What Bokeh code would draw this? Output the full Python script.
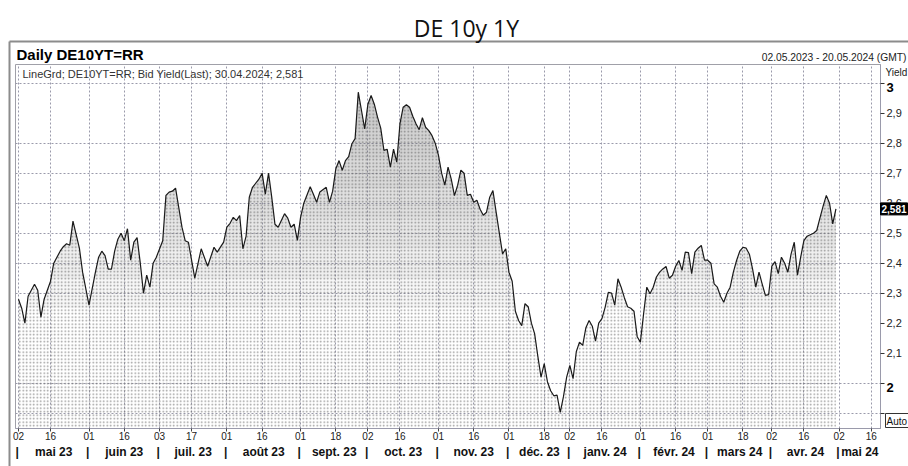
import numpy as np
import pandas as pd
from bokeh.plotting import figure
from bokeh.models import Range1d, LinearAxis, FixedTicker, Grid, ColumnDataSource
from bokeh.core.properties import value
from bokeh.embed import file_html
from bokeh.resources import INLINE

# ---------------- data ----------------
dates = [
    "2023-05-02", "2023-05-03", "2023-05-04", "2023-05-05", "2023-05-09", "2023-05-10", "2023-05-11",
    "2023-05-12", "2023-05-16", "2023-05-17", "2023-05-19", "2023-05-22", "2023-05-23", "2023-05-24",
    "2023-05-25", "2023-05-29", "2023-05-30", "2023-06-01", "2023-06-05", "2023-06-06", "2023-06-07",
    "2023-06-08", "2023-06-09", "2023-06-12", "2023-06-13", "2023-06-14", "2023-06-15", "2023-06-16",
    "2023-06-19", "2023-06-20", "2023-06-21", "2023-06-22", "2023-06-23", "2023-06-26", "2023-06-27",
    "2023-06-28", "2023-06-29", "2023-06-30", "2023-07-04", "2023-07-05", "2023-07-06", "2023-07-07",
    "2023-07-10", "2023-07-12", "2023-07-13", "2023-07-14", "2023-07-18", "2023-07-20", "2023-07-24",
    "2023-07-26", "2023-07-27", "2023-07-31", "2023-08-01", "2023-08-02", "2023-08-03", "2023-08-04",
    "2023-08-07", "2023-08-08", "2023-08-09", "2023-08-10", "2023-08-11", "2023-08-15", "2023-08-16",
    "2023-08-17", "2023-08-18", "2023-08-21", "2023-08-22", "2023-08-23", "2023-08-25", "2023-08-28",
    "2023-08-29", "2023-08-30", "2023-08-31", "2023-09-01", "2023-09-04", "2023-09-06", "2023-09-07",
    "2023-09-08", "2023-09-11", "2023-09-13", "2023-09-14", "2023-09-15", "2023-09-18", "2023-09-19",
    "2023-09-20", "2023-09-21", "2023-09-22", "2023-09-25", "2023-09-26", "2023-09-27", "2023-09-28",
    "2023-09-29", "2023-10-02", "2023-10-03", "2023-10-04", "2023-10-05", "2023-10-06", "2023-10-09",
    "2023-10-10", "2023-10-11", "2023-10-12", "2023-10-13", "2023-10-16", "2023-10-17", "2023-10-18",
    "2023-10-19", "2023-10-20", "2023-10-23", "2023-10-24", "2023-10-25", "2023-10-26", "2023-10-27",
    "2023-10-30", "2023-10-31", "2023-11-01", "2023-11-02", "2023-11-03", "2023-11-06", "2023-11-07",
    "2023-11-08", "2023-11-09", "2023-11-10", "2023-11-13", "2023-11-14", "2023-11-15", "2023-11-16",
    "2023-11-17", "2023-11-20", "2023-11-21", "2023-11-22", "2023-11-23", "2023-11-24", "2023-11-27",
    "2023-11-28", "2023-11-29", "2023-11-30", "2023-12-01", "2023-12-04", "2023-12-05", "2023-12-06",
    "2023-12-07", "2023-12-08", "2023-12-11", "2023-12-12", "2023-12-13", "2023-12-14", "2023-12-15",
    "2023-12-18", "2023-12-19", "2023-12-20", "2023-12-21", "2023-12-22", "2023-12-27", "2023-12-28",
    "2023-12-29", "2024-01-02", "2024-01-03", "2024-01-04", "2024-01-05", "2024-01-08", "2024-01-09",
    "2024-01-10", "2024-01-11", "2024-01-12", "2024-01-15", "2024-01-16", "2024-01-17", "2024-01-18",
    "2024-01-19", "2024-01-22", "2024-01-23", "2024-01-24", "2024-01-25", "2024-01-26", "2024-01-29",
    "2024-01-30", "2024-01-31", "2024-02-01", "2024-02-02", "2024-02-05", "2024-02-06", "2024-02-07",
    "2024-02-08", "2024-02-09", "2024-02-12", "2024-02-13", "2024-02-14", "2024-02-15", "2024-02-16",
    "2024-02-19", "2024-02-20", "2024-02-21", "2024-02-22", "2024-02-23", "2024-02-26", "2024-02-27",
    "2024-02-28", "2024-02-29", "2024-03-01", "2024-03-04", "2024-03-05", "2024-03-06", "2024-03-07",
    "2024-03-08", "2024-03-11", "2024-03-12", "2024-03-13", "2024-03-14", "2024-03-15", "2024-03-18",
    "2024-03-19", "2024-03-20", "2024-03-21", "2024-03-22", "2024-03-25", "2024-03-26", "2024-03-27",
    "2024-03-28", "2024-04-02", "2024-04-03", "2024-04-04", "2024-04-05", "2024-04-08", "2024-04-09",
    "2024-04-10", "2024-04-11", "2024-04-12", "2024-04-15", "2024-04-16", "2024-04-17", "2024-04-18",
    "2024-04-19", "2024-04-22", "2024-04-23", "2024-04-24", "2024-04-25", "2024-04-26", "2024-04-29",
    "2024-04-30",
]
yields = [
    2.28, 2.25, 2.20, 2.29, 2.33, 2.31, 2.22,
    2.28, 2.34, 2.40, 2.44, 2.455, 2.465, 2.46,
    2.54, 2.45, 2.37, 2.26, 2.37, 2.42, 2.44,
    2.425, 2.38, 2.38, 2.44, 2.48, 2.50, 2.475,
    2.515, 2.41, 2.47, 2.485, 2.40, 2.30, 2.36,
    2.32, 2.40, 2.42, 2.475, 2.626, 2.637, 2.64,
    2.65, 2.52, 2.475, 2.47, 2.35, 2.448, 2.39,
    2.453, 2.437, 2.47, 2.52, 2.533, 2.553, 2.542,
    2.559, 2.448, 2.49, 2.62, 2.653, 2.68, 2.70,
    2.63, 2.70, 2.62, 2.53, 2.52, 2.565, 2.55,
    2.52, 2.53, 2.476, 2.553, 2.60, 2.655, 2.63,
    2.603, 2.637, 2.653, 2.603, 2.64, 2.715, 2.742,
    2.71, 2.742, 2.755, 2.798, 2.815, 2.97, 2.909,
    2.848, 2.93, 2.959, 2.93, 2.887, 2.85, 2.776,
    2.78, 2.72, 2.78, 2.737, 2.865, 2.92, 2.928,
    2.92, 2.89, 2.865, 2.845, 2.885, 2.853, 2.842,
    2.825, 2.80, 2.76, 2.70, 2.66, 2.72, 2.68,
    2.625, 2.66, 2.71, 2.70, 2.626, 2.63, 2.603,
    2.61, 2.58, 2.56, 2.57, 2.62, 2.642, 2.57,
    2.50, 2.431, 2.448, 2.37, 2.34, 2.24, 2.209,
    2.192, 2.265, 2.255, 2.20, 2.165, 2.09, 2.02,
    2.065, 2.005, 1.975, 1.958, 1.96, 1.903, 1.955,
    2.02, 2.059, 2.015, 2.105, 2.137, 2.126, 2.185,
    2.209, 2.19, 2.14, 2.20, 2.215, 2.253, 2.303,
    2.30, 2.26, 2.348, 2.32, 2.285, 2.255, 2.25,
    2.24, 2.155, 2.137, 2.231, 2.32, 2.298, 2.32,
    2.354, 2.37, 2.381, 2.389, 2.35, 2.36, 2.39,
    2.409, 2.376, 2.437, 2.435, 2.365, 2.437, 2.45,
    2.459, 2.41, 2.41, 2.40, 2.331, 2.32, 2.29,
    2.27, 2.30, 2.32, 2.37, 2.409, 2.44, 2.453,
    2.45, 2.43, 2.38, 2.32, 2.37, 2.33, 2.293,
    2.295, 2.39, 2.405, 2.365, 2.42, 2.40, 2.37,
    2.43, 2.47, 2.36, 2.42, 2.475, 2.49, 2.495,
    2.50, 2.509, 2.55, 2.59, 2.626, 2.60, 2.531,
    2.581,
]

first_day = "2023-05-02"
last_day = "2024-05-20"
holidays = ["2023-12-25", "2023-12-26", "2024-01-01", "2024-03-29", "2024-04-01", "2024-05-01"]

day_tick_dates = [
    "2023-05-02", "2023-05-16", "2023-06-01", "2023-06-16", "2023-07-03", "2023-07-17",
    "2023-08-01", "2023-08-16", "2023-09-01", "2023-09-18", "2023-10-02", "2023-10-16",
    "2023-11-01", "2023-11-16", "2023-12-01", "2023-12-18", "2024-01-02", "2024-01-16",
    "2024-02-01", "2024-02-16", "2024-03-01", "2024-03-18", "2024-04-02", "2024-04-16",
    "2024-05-02", "2024-05-16",
]
month_start_dates = [
    "2023-05-02", "2023-06-01", "2023-07-03", "2023-08-01", "2023-09-01", "2023-10-02",
    "2023-11-01", "2023-12-01", "2024-01-02", "2024-02-01", "2024-03-01", "2024-04-02",
    "2024-05-02",
]
month_names = ["mai 23", "juin 23", "juil. 23", "août 23", "sept. 23", "oct. 23", "nov. 23",
               "déc. 23", "janv. 24", "févr. 24", "mars 24", "avr. 24", "mai 24"]

y_ticks = [1.9, 2.0, 2.1, 2.2, 2.3, 2.4, 2.5, 2.6, 2.7, 2.8, 2.9, 3.0]
y_tick_labels = ["", "", "2,1", "2,2", "2,3", "2,4", "2,5", "2,6", "2,7", "2,8", "2,9", ""]
y_grid_lines = [1.9, 2.0, 2.3, 2.4, 2.5, 2.6, 2.7, 2.8, 3.0]
bold_y_values = [3.0, 2.0]
bold_y_texts = ["3", "2"]
last_value = 2.581
last_value_label = "2,581"

title_text = "DE 10y 1Y"
header_text = "Daily DE10YT=RR"
range_text = "02.05.2023 - 20.05.2024 (GMT)"
legend_text = "LineGrd; DE10YT=RR; Bid Yield(Last); 30.04.2024; 2,581"

# ---------------- trading-day axis ----------------
cal = [d.strftime("%Y-%m-%d") for d in pd.bdate_range(first_day, last_day)]
cal = [d for d in cal if d not in holidays]
pos = {d: i for i, d in enumerate(cal)}

x = np.array([pos[d] for d in dates], dtype=float)
y = np.array(yields)

day_ticks = [pos[d] for d in day_tick_dates]
day_labels = {pos[d]: d[-2:] for d in day_tick_dates}
month_starts = [pos[d] for d in month_start_dates]

X0, X1 = -0.93, 268.9
Y0, Y1 = 1.849, 3.0623
month_bounds = month_starts + [X1]
month_centers = [float((month_bounds[i] + month_bounds[i + 1]) / 2) for i in range(len(month_starts))]
month_ticks = [float(m) - 0.4 for m in month_starts] + month_centers
month_tick_labels = {float(m) - 0.4: "|" for m in month_starts}
month_tick_labels.update({c: n for c, n in zip(month_centers, month_names)})

# ---------------- layout (canvas pixels) ----------------
W, H = 908, 466
FL, FT, FR, FB = 15, 64, 880, 428


def px2x(X):
    return X0 + (X - FL) / (FR - FL) * (X1 - X0)


def px2y(Y):
    return Y1 - (Y - FT) / (FB - FT) * (Y1 - Y0)


def py(v):
    return FT + (Y1 - v) / (Y1 - Y0) * (FB - FT)


p = figure(width=W, height=H, output_backend="svg", toolbar_location=None,
           x_range=Range1d(X0, X1), y_range=Range1d(Y0, Y1),
           x_axis_location=None, y_axis_location=None,
           min_border_left=FL, min_border_top=FT, min_border_right=W - FR,
           min_border_bottom=H - FB,
           background_fill_color="white", border_fill_color="white")
p.outline_line_color = "#a0a0a8"
p.outline_line_width = 1
p.center = [r for r in p.center if not isinstance(r, Grid)]

grid_col = "#9a9aab"
p.add_layout(Grid(dimension=0, ticker=FixedTicker(ticks=day_ticks), grid_line_color=grid_col,
                  grid_line_dash="2 2", grid_line_width=1))
p.add_layout(Grid(dimension=1, ticker=FixedTicker(ticks=y_grid_lines), grid_line_color=grid_col,
                  grid_line_dash="2 2", grid_line_width=1))

src = ColumnDataSource(dict(x=x, y=y, base=np.full(len(x), Y0)))
p.varea(x="x", y1="base", y2="y", source=src, fill_color="white", fill_alpha=0.0,
        hatch_pattern="dot", hatch_color="#6f6f6f", hatch_scale=3.5, hatch_weight=1, hatch_alpha=0.7)
for t in [2.25, 2.35, 2.45, 2.55, 2.65, 2.75, 2.85]:
    p.varea(x=x, y1=np.full(len(x), t), y2=np.maximum(y, t), fill_color="#606060", fill_alpha=0.05)
p.line(x, y, line_color="#1a1a1a", line_width=1.2)

# right axis
yax = LinearAxis(ticker=FixedTicker(ticks=y_ticks),
                 major_label_overrides={v: l for v, l in zip(y_ticks, y_tick_labels)},
                 major_tick_out=4, major_tick_in=0, minor_tick_line_color=None,
                 axis_line_color="#9a9aab", major_tick_line_color="#333333",
                 major_label_text_font="Liberation Sans", major_label_text_font_size="11px",
                 major_label_text_color="#222222", major_label_standoff=2)
p.add_layout(yax, "right")

# bottom axes
xax = LinearAxis(ticker=FixedTicker(ticks=day_ticks), major_label_overrides=day_labels,
                 major_tick_out=3, major_tick_in=0, minor_tick_line_color=None,
                 axis_line_color="#9a9aab", major_tick_line_color="#444444",
                 major_label_text_font="Liberation Sans", major_label_text_font_size="10px",
                 major_label_text_color="#222222", major_label_standoff=0)
p.add_layout(xax, "below")
max_ = LinearAxis(ticker=FixedTicker(ticks=month_ticks), major_label_overrides=month_tick_labels,
                  major_tick_line_color=None, major_tick_out=0, major_tick_in=0,
                  minor_tick_line_color=None, axis_line_color=None,
                  major_label_text_font="Liberation Sans", major_label_text_font_size="12px",
                  major_label_text_font_style="bold", major_label_text_color="#111111",
                  major_label_standoff=2)
p.add_layout(max_, "below")

# ---------------- texts and frame outside the plot area (overlay level, unclipped) ----------------
border_col = "#8c8c8c"
p.line([px2x(9), px2x(W + 5)], [px2y(41), px2y(41)], line_color=border_col, line_width=2, level="overlay")
p.line([px2x(9), px2x(9)], [px2y(41), px2y(H + 5)], line_color=border_col, line_width=2, level="overlay")


def txt(t, X, Y, size, bold=False, align="left", color="black", font="Liberation Sans"):
    p.text(x=[px2x(X)], y=[px2y(Y)], text=[t], text_font=value(font), text_font_size=f"{size}px",
           text_font_style="bold" if bold else "normal", text_align=align,
           text_baseline="middle", text_color=color, level="overlay")


txt(title_text, 466, 27, 23, align="center", font="Open Sans", color="#111111")
txt(header_text, 16, 54, 15, bold=True)
txt(range_text, 906, 57, 10.3, align="right", color="#222222")
txt(legend_text, 22, 73, 11, color="#333333")
txt("Yield", 885, 72, 10, color="#222222")

for v, t in zip(bold_y_values, bold_y_texts):
    txt(t, 886, py(v) + 4, 13, bold=True)

tag_y = py(last_value)
p.quad(left=[px2x(880)], right=[px2x(907)], top=[px2y(tag_y - 6)], bottom=[px2y(tag_y + 6)],
       fill_color="black", line_color="black", level="overlay")
p.text(x=[px2x(881)], y=[last_value], text=[last_value_label], text_font=value("Liberation Sans"),
       text_font_size="10px", text_font_style="bold", text_color="white", text_baseline="middle",
       level="overlay")

p.quad(left=[px2x(885)], right=[px2x(912)], top=[px2y(413)], bottom=[px2y(427)],
       fill_color="white", line_color="#333333", level="overlay")
txt("Auto", 886, 420.5, 10, color="#111111")

open("out.html", "w").write(file_html(p, INLINE))
